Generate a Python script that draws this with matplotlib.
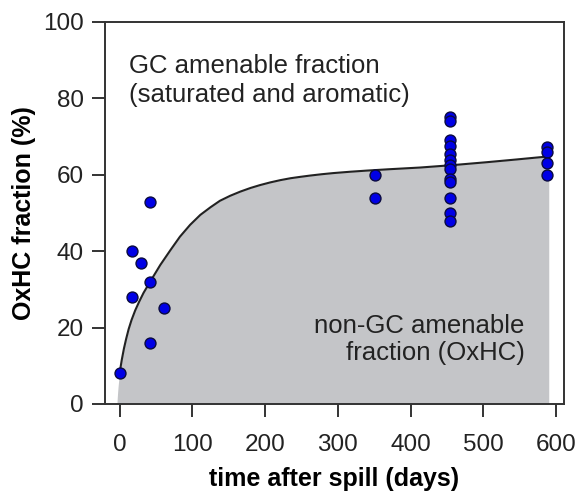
import matplotlib
matplotlib.use('Agg')
import matplotlib.pyplot as plt
import numpy as np

plt.rcParams['font.family'] = ['Liberation Sans', 'DejaVu Sans']

# measured samples (days after spill, OxHC fraction %)
sample_days = [0, 17, 30, 42, 17, 61, 42, 42,
               351, 351,
               454, 454, 454, 454, 454, 454, 454, 454, 454, 454, 454, 454, 454,
               587, 587, 587, 587]
sample_oxhc = [8, 40, 37, 32, 28, 25, 16, 53,
               60, 54,
               75, 74, 69, 67.5, 65.5, 64, 62.5, 61.5, 59, 58, 54, 50, 48,
               67.2, 66, 63, 60]

# fitted curve
curve_days = [-3.6, -3.2, -2.6, -2.0, -1.0, 0, 3, 6, 9, 12.5, 16.5, 21.5, 27, 33, 42,
              56, 70, 83, 97, 111, 125, 138, 152, 166, 180, 193, 207, 221,
              235, 248, 262, 278, 294, 317, 340, 370, 413, 459, 505, 545, 578, 590]
curve_oxhc = [0, 1.5, 3.2, 4.6, 6.5, 8.0, 11.5, 14.5, 17.0, 19.6, 22.0, 24.5, 26.8, 29.1, 32.0,
              36.4, 40.3, 43.8, 46.9, 49.5, 51.5, 53.2, 54.5, 55.6, 56.55, 57.3, 58.0, 58.6,
              59.1, 59.45, 59.8, 60.15, 60.45, 60.8, 61.1, 61.45, 61.9, 62.55, 63.3, 64.0, 64.6, 64.8]

x_ticks = [0, 100, 200, 300, 400, 500, 600]
y_ticks = [0, 20, 40, 60, 80, 100]

fig = plt.figure(figsize=(5.84, 4.91), dpi=100)
ax = fig.add_axes([0.1798, 0.1772, 0.786, 0.778])

cd = np.array(curve_days)
co = np.array(curve_oxhc)
ax.fill_between(cd, 0, co, color='#c4c5c8', lw=0, zorder=1)
ax.plot(cd[cd >= 0], co[cd >= 0], color='#222222', lw=1.5, zorder=2,
        solid_joinstyle='round')

ax.scatter(sample_days, sample_oxhc, s=62, color='#0000e6', edgecolor='#0a0a40',
           linewidth=1.0, zorder=3)

ax.set_xlim(-20, 611)
ax.set_ylim(0, 100)
ax.set_xticks(x_ticks)
ax.set_yticks(y_ticks)

for sp in ax.spines.values():
    sp.set_color('#333333')
    sp.set_linewidth(1.4)

ax.tick_params(axis='both', direction='out', length=9.4, width=1.4, color='#333333',
               labelsize=17.5, labelcolor='#222222')
ax.tick_params(axis='x', pad=12)
ax.tick_params(axis='y', pad=6)

ax.set_xlabel('time after spill (days)', fontsize=18, fontweight='bold', labelpad=8)
ax.set_ylabel('OxHC fraction (%)', fontsize=18, fontweight='bold', labelpad=5)

ax.text(13, 91.5, 'GC amenable fraction\n(saturated and aromatic)', fontsize=18.5,
        ha='left', va='top', color='#222222', linespacing=1.22)
ax.text(557, 11.5, 'non-GC amenable\nfraction (OxHC)', fontsize=18.5,
        ha='right', va='baseline', multialignment='right', color='#222222', linespacing=1.18)

fig.savefig('out.png', dpi=100)
